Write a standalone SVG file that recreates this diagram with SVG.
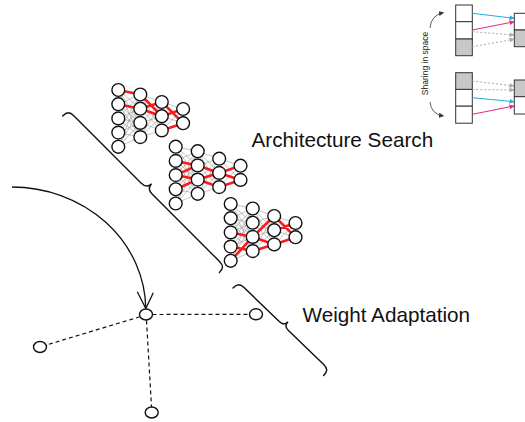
<svg xmlns="http://www.w3.org/2000/svg" xmlns:xlink="http://www.w3.org/1999/xlink" width="525" height="422" viewBox="0 0 525 422">
<style>
.gray{fill:none;stroke:#7a7a7a;stroke-width:0.45}
.red{fill:none;stroke:#ff1a1a;stroke-width:2.6;stroke-linejoin:round;stroke-linecap:round}
.nc{fill:#fff;stroke:#111;stroke-width:1.4}
.brace{fill:none;stroke:#111;stroke-width:1.4;stroke-linecap:round}
.dash{fill:none;stroke:#111;stroke-width:1.2;stroke-dasharray:4 3}
.lbl{font-family:"Liberation Sans",Arial,sans-serif;font-size:20.7px;fill:#111}
.box{stroke:#333;stroke-width:1}
.w{fill:#fff}.g{fill:#c8c8c8}
</style>
<defs>
<g id="netlines"><path class="gray" d="M0 0L22 4.5M0 0L22 18.7M0 0L22 32.9M0 0L22 47.1M0 14.2L22 4.5M0 14.2L22 18.7M0 14.2L22 32.9M0 14.2L22 47.1M0 28.4L22 4.5M0 28.4L22 18.7M0 28.4L22 32.9M0 28.4L22 47.1M0 42.6L22 4.5M0 42.6L22 18.7M0 42.6L22 32.9M0 42.6L22 47.1M0 56.8L22 4.5M0 56.8L22 18.7M0 56.8L22 32.9M0 56.8L22 47.1M22 4.5L43.5 12M22 4.5L43.5 26.2M22 4.5L43.5 40.4M22 18.7L43.5 12M22 18.7L43.5 26.2M22 18.7L43.5 40.4M22 32.9L43.5 12M22 32.9L43.5 26.2M22 32.9L43.5 40.4M22 47.1L43.5 12M22 47.1L43.5 26.2M22 47.1L43.5 40.4M43.5 12L64.8 19M43.5 12L64.8 33.2M43.5 26.2L64.8 19M43.5 26.2L64.8 33.2M43.5 40.4L64.8 19M43.5 40.4L64.8 33.2"/></g>
<g id="netnodes">
<circle class="nc" cx="0" cy="0" r="6.4"/><circle class="nc" cx="0" cy="14.2" r="6.4"/><circle class="nc" cx="0" cy="28.4" r="6.4"/><circle class="nc" cx="0" cy="42.6" r="6.4"/><circle class="nc" cx="0" cy="56.8" r="6.4"/>
<circle class="nc" cx="22" cy="4.5" r="6.4"/><circle class="nc" cx="22" cy="18.7" r="6.4"/><circle class="nc" cx="22" cy="32.9" r="6.4"/><circle class="nc" cx="22" cy="47.1" r="6.4"/>
<circle class="nc" cx="43.5" cy="12" r="6.4"/><circle class="nc" cx="43.5" cy="26.2" r="6.4"/><circle class="nc" cx="43.5" cy="40.4" r="6.4"/>
<circle class="nc" cx="64.8" cy="19" r="6.4"/><circle class="nc" cx="64.8" cy="33.2" r="6.4"/>
</g>
<marker id="mb" viewBox="0 0 10 10" refX="9" refY="5" markerWidth="5" markerHeight="5" orient="auto" markerUnits="userSpaceOnUse"><path d="M0 0L10 5L0 10z" fill="#29a9e0"/></marker>
<marker id="mp" viewBox="0 0 10 10" refX="9" refY="5" markerWidth="5" markerHeight="5" orient="auto" markerUnits="userSpaceOnUse"><path d="M0 0L10 5L0 10z" fill="#e8287c"/></marker>
<marker id="mg" viewBox="0 0 10 10" refX="9" refY="5" markerWidth="5" markerHeight="5" orient="auto" markerUnits="userSpaceOnUse"><path d="M0 0L10 5L0 10z" fill="#aaa"/></marker>
<marker id="mk" viewBox="0 0 10 10" refX="9" refY="5" markerWidth="5" markerHeight="5" orient="auto" markerUnits="userSpaceOnUse"><path d="M0 0L10 5L0 10z" fill="#333"/></marker>
</defs>

<g id="net1" transform="translate(118.3 90)">
<use xlink:href="#netlines" href="#netlines"/>
<path class="red" d="M0 0L22 4.5M0 14.2L22 18.7M22 4.5L43.5 26.2M22 18.7L43.5 12M22 18.7L43.5 26.2M43.5 12L64.8 33.2M43.5 26.2L64.8 19M43.5 40.4L64.8 33.2"/>
<use xlink:href="#netnodes" href="#netnodes"/>
</g>
<g id="net2" transform="translate(175.7 146.7)">
<use xlink:href="#netlines" href="#netlines"/>
<path class="red" d="M0 14.2L22 18.7L0 28.4L22 32.9L0 42.6M22 18.7L43.5 26.2L22 32.9L43.5 40.4M64.8 19L43.5 26.2L64.8 33.2L43.5 40.4"/>
<use xlink:href="#netnodes" href="#netnodes"/>
</g>
<g id="net3" transform="translate(230.7 204)">
<use xlink:href="#netlines" href="#netlines"/>
<path class="red" d="M0 28.4L22 32.9L0 56.8M0 42.6L22 47.1M43.5 12L22 32.9L43.5 40.4L22 47.1M43.5 12L64.8 33.2M43.5 26.2L64.8 19M43.5 40.4L64.8 33.2"/>
<use xlink:href="#netnodes" href="#netnodes"/>
</g>

<g id="brace-arch" transform="translate(62.7 116) rotate(45)">
<path class="brace" d="M0 0C0 -6 2 -8 8 -8L102.75 -8C108 -8 110.75 -10 110.75 -15C110.75 -10 113.5 -8 118.75 -8L213.5 -8C219.5 -8 221.5 -6 221.5 0"/>
</g>
<g id="brace-weight" transform="translate(233 288) rotate(44)">
<path class="brace" d="M0 0C0 -6 2 -8 8 -8L57 -8C61 -8 63 -10 63 -14C63 -10 65 -8 69 -8L118 -8C124 -8 126 -6 126 0"/>
</g>

<g id="label-arch"><text class="lbl" x="251.5" y="146.5">Architecture Search</text></g>
<g id="label-weight"><text class="lbl" x="302.5" y="322">Weight Adaptation</text></g>

<g id="connectors">
<path fill="none" stroke="#111" stroke-width="1.3" d="M12 187A134 123 0 0 1 145.8 308.5"/>
<path fill="none" stroke="#111" stroke-width="1.3" d="M137.3 291.7L145.8 308.5L153.3 292.7"/>
<path class="dash" d="M139.8 316.8L46.3 345"/>
<path class="dash" d="M152.5 314.5L249.5 314.3"/>
<path class="dash" d="M146.5 320.5L151.5 407"/>
</g>
<g id="node-center"><ellipse class="nc" cx="146" cy="314.5" rx="6.5" ry="5.5"/></g>
<g id="node-left"><ellipse class="nc" cx="40" cy="347" rx="6.5" ry="5.5"/></g>
<g id="node-right"><ellipse class="nc" cx="256" cy="314.3" rx="6.5" ry="5.5"/></g>
<g id="node-bottom"><ellipse class="nc" cx="151.7" cy="412.5" rx="6.5" ry="5.5"/></g>

<g id="inset">
<rect class="box w" x="455.7" y="5" width="16.6" height="16.7"/>
<rect class="box w" x="455.7" y="21.7" width="16.6" height="17.3"/>
<rect class="box g" x="455.7" y="39" width="16.6" height="16.7" stroke="none"/>
<rect class="box g" x="455.7" y="72.7" width="16.6" height="16.7" stroke="none"/>
<rect class="box w" x="455.7" y="89.4" width="16.6" height="16.8"/>
<rect class="box w" x="455.7" y="106.2" width="16.6" height="17"/>
<rect class="box w" x="514.3" y="13.3" width="16" height="16.7"/>
<rect class="box g" x="514.3" y="30" width="16" height="16.7" stroke="none"/>
<rect class="box g" x="514.3" y="80" width="16" height="16.7" stroke="none"/>
<rect class="box w" x="514.3" y="96.7" width="16" height="17.3"/>
<g stroke-width="1" fill="none">
<path d="M472.3 13.3L514 18.3" stroke="#29a9e0" marker-end="url(#mb)"/>
<path d="M472.3 30L514 21.8" stroke="#e8287c" marker-end="url(#mp)"/>
<path d="M472.3 31.7L514 35" stroke="#aaa" stroke-dasharray="2 2" marker-end="url(#mg)"/>
<path d="M472.3 46.7L514 39.3" stroke="#aaa" stroke-dasharray="2 2" marker-end="url(#mg)"/>
<path d="M472.3 81L514 86" stroke="#aaa" stroke-dasharray="2 2" marker-end="url(#mg)"/>
<path d="M472.3 89.5L514 90" stroke="#aaa" stroke-dasharray="2 2" marker-end="url(#mg)"/>
<path d="M472.3 97.7L514 101.7" stroke="#29a9e0" marker-end="url(#mb)"/>
<path d="M472.3 114.3L514 106" stroke="#e8287c" marker-end="url(#mp)"/>
<path d="M430 28Q431 15 443.5 12.7" stroke="#333" stroke-width="0.8" marker-end="url(#mk)"/>
<path d="M430 102Q431 114 443.5 116" stroke="#333" stroke-width="0.8" marker-end="url(#mk)"/>
</g>
<text x="0" y="0" transform="translate(428 63.5) rotate(-90)" text-anchor="middle" font-family="Liberation Sans, Arial, sans-serif" font-size="8.5" fill="#222">Sharing in space</text>
</g>
</svg>
